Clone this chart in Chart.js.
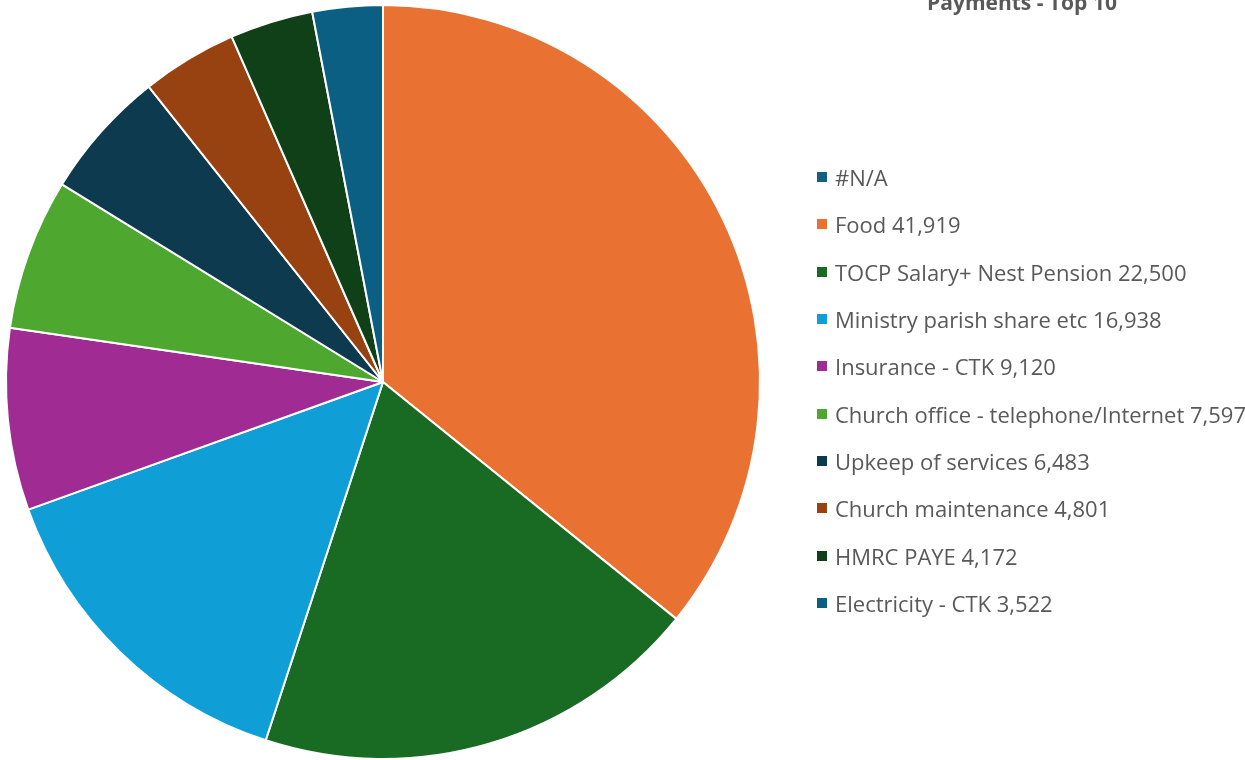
<!DOCTYPE html>
<html>
<head>
<meta charset="utf-8">
<script src="https://cdn.jsdelivr.net/npm/chart.js@4/dist/chart.umd.min.js"></script>
<style>
    html, body { margin: 0; padding: 0; background: #ffffff; overflow: hidden; }
    #wrap { width: 1245px; height: 760px; position: relative; }
    #paymentsChart { position: absolute; left: 0; top: 0; }
    .chart-title {
        position: absolute; left: 822px; width: 400px; top: -12px;
        text-align: center; font: bold 21px "Open Sans", sans-serif; color: #595959;
        line-height: 28px; white-space: nowrap;
    }
    #legend { position: absolute; left: 817px; top: 153.5px; margin: 0; padding: 0; list-style: none; }
    #legend li {
        height: 47.33px; display: flex; align-items: center;
        font: 22px "Open Sans", sans-serif; color: #595959; white-space: nowrap;
    }
    #legend .box { width: 10px; height: 10px; margin-right: 8px; flex: none; }
</style>
</head>
<body>
<div id="wrap">
    <canvas id="paymentsChart" width="1245" height="760"></canvas>
    <div class="chart-title" id="chartTitle"></div>
    <ul id="legend"></ul>
</div>
<script>
// Dữ liệu biểu đồ
const categories = [
    '#N/A',
    'Food 41,919',
    'TOCP Salary+ Nest Pension 22,500',
    'Ministry parish share etc 16,938',
    'Insurance - CTK 9,120',
    'Church office - telephone/Internet 7,597',
    'Upkeep of services 6,483',
    'Church maintenance 4,801',
    'HMRC PAYE 4,172',
    'Electricity - CTK 3,522'
];
const amounts = [0, 41919, 22500, 16938, 9120, 7597, 6483, 4801, 4172, 3522];
const sliceColors = [
    '#156082', '#E97132', '#196B24', '#0F9ED5', '#A02B93',
    '#4EA72E', '#0E3A4F', '#984211', '#104018', '#0B5F82'
];
const chartTitle = 'Payments - Top 10';

document.getElementById('chartTitle').textContent = chartTitle;

// Legend dạng HTML, lấy item từ chính chart
const htmlLegendPlugin = {
    id: 'htmlLegend',
    afterUpdate(chart) {
        const ul = document.getElementById('legend');
        ul.innerHTML = '';
        const items = chart.options.plugins.legend.labels.generateLabels(chart);
        items.forEach(item => {
            const li = document.createElement('li');
            const box = document.createElement('span');
            box.className = 'box';
            box.style.background = item.fillStyle;
            const text = document.createElement('span');
            text.textContent = item.text;
            li.appendChild(box);
            li.appendChild(text);
            ul.appendChild(li);
        });
    }
};

const ctx = document.getElementById('paymentsChart').getContext('2d');
new Chart(ctx, {
    type: 'pie',
    data: {
        labels: categories,
        datasets: [{
            data: amounts,
            backgroundColor: sliceColors,
            borderColor: '#ffffff',
            borderWidth: 2
        }]
    },
    options: {
        responsive: false,
        animation: false,
        layout: {
            padding: { top: 4, left: 0, right: 479, bottom: 0 }
        },
        plugins: {
            tooltip: { enabled: false },
            legend: { display: false }
        }
    },
    plugins: [htmlLegendPlugin]
});
</script>
</body>
</html>
